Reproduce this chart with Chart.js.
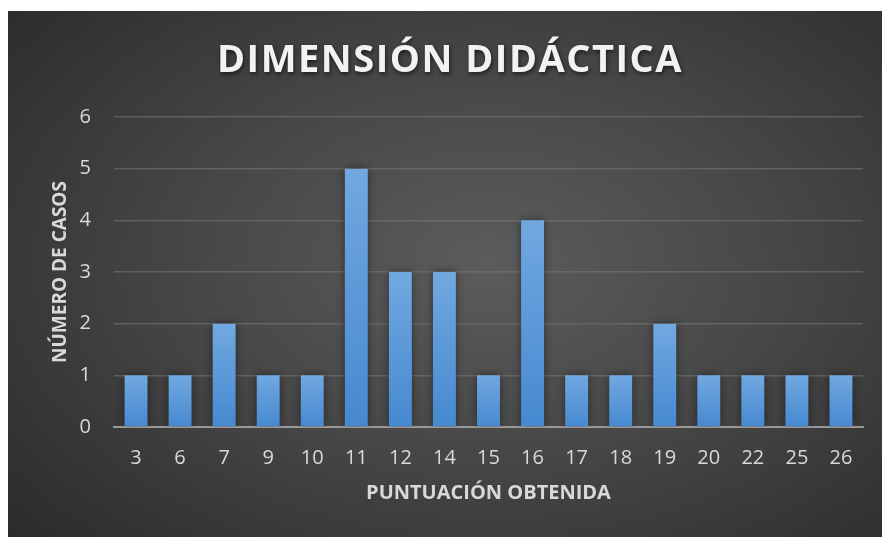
<!DOCTYPE html>
<html>
<head>
<meta charset="utf-8">
<script src="https://cdn.jsdelivr.net/npm/chart.js@4"></script>
<style>
  html, body { margin: 0; padding: 0; background: #ffffff; }
  #wrap {
    position: absolute; left: 8px; top: 11px; width: 874px; height: 526px;
    background: radial-gradient(ellipse 75% 80% at 55% 48%, #5c5c5c 0%, #474747 45%, #2a2a2a 100%);
  }
</style>
</head>
<body>
<div id="wrap"><canvas id="chartjs" width="874" height="526"></canvas></div>
<script>
const ctx = document.getElementById("chartjs");

const titleText = "DIMENSIÓN DIDÁCTICA";
const xTitle = "PUNTUACIÓN OBTENIDA";
const yTitle = "NÚMERO DE CASOS";
const scores = ["3", "6", "7", "9", "10", "11", "12", "14", "15", "16", "17", "18", "19", "20", "22", "25", "26"];
const cases = [1, 1, 2, 1, 1, 5, 3, 3, 1, 4, 1, 1, 2, 1, 1, 1, 1];
const yTicks = [0, 1, 2, 3, 4, 5, 6];

const fontFamily = "'Open Sans', 'Liberation Sans', sans-serif";
const labelColor = '#d9d9d9';

// title with letter spacing and a soft shadow
const titlePlugin = {
    id: 'spacedTitle',
    afterDraw(chart) {
        const c = chart.ctx;
        c.save();
        c.font = "bold 38px " + fontFamily;
        c.letterSpacing = '1.5px';
        c.fillStyle = '#f2f2f2';
        c.textAlign = 'center';
        c.textBaseline = 'middle';
        c.shadowColor = 'rgba(0,0,0,0.6)';
        c.shadowBlur = 4;
        c.shadowOffsetX = 1;
        c.shadowOffsetY = 2;
        c.fillText(titleText, 442, 50);
        c.restore();
    }
};

// shadow behind bars
const barShadow = {
    id: 'barShadow',
    beforeDatasetsDraw(chart) {
        chart.ctx.save();
        chart.ctx.shadowColor = 'rgba(0,0,0,0.45)';
        chart.ctx.shadowBlur = 8;
        chart.ctx.shadowOffsetX = 0;
        chart.ctx.shadowOffsetY = 0;
    },
    afterDatasetsDraw(chart) {
        chart.ctx.restore();
    }
};

function barColor(context) {
    const chart = context.chart;
    const y = chart.scales.y;
    if (!chart.chartArea || !y) return '#5b9bd5';
    const v = context.raw || 0;
    const top = y.getPixelForValue(v);
    const bottom = y.getPixelForValue(0);
    if (top === bottom) return '#5b9bd5';
    const g = chart.ctx.createLinearGradient(0, top, 0, bottom);
    g.addColorStop(0, '#71a8e0');
    g.addColorStop(1, '#4689d0');
    return g;
}

const chart = new Chart(ctx, {
    type: 'bar',
    data: {
        labels: scores,
        datasets: [{
            label: "casos",
            data: cases,
            backgroundColor: barColor,
            borderWidth: 0,
            categoryPercentage: 1,
            barPercentage: 0.52
        }]
    },
    plugins: [barShadow, titlePlugin],
    options: {
        responsive: false,
        animation: false,
        layout: { padding: { top: 106, right: 19, bottom: 0, left: 0 } },
        plugins: {
            legend: { display: false },
            tooltip: { enabled: false },
            title: { display: false }
        },
        scales: {
            x: {
                afterFit(scale) { scale.height = 110; },
                grid: { display: false, drawTicks: false },
                border: { display: true, color: '#9a9a9a', width: 2 },
                ticks: {
                    color: labelColor,
                    padding: 19,
                    font: { family: fontFamily, size: 20 }
                },
                title: {
                    display: true,
                    text: xTitle,
                    color: labelColor,
                    font: { family: fontFamily, size: 20, weight: 'bold' },
                    padding: { top: 0, bottom: 32 }
                }
            },
            y: {
                min: 0,
                max: 6,
                afterFit(scale) { scale.width = 106; },
                afterBuildTicks(scale) { scale.ticks = yTicks.map(v => ({ value: v })); },
                grid: { color: 'rgba(120,120,120,0.55)', lineWidth: 1.5, drawTicks: false },
                border: { display: false },
                ticks: {
                    color: labelColor,
                    padding: 23,
                    font: { family: fontFamily, size: 20 }
                },
                title: {
                    display: true,
                    text: yTitle,
                    color: labelColor,
                    font: { family: fontFamily, size: 19, weight: 'bold' },
                    padding: { top: 41, bottom: 0 }
                }
            }
        }
    }
});
</script>
</body>
</html>
